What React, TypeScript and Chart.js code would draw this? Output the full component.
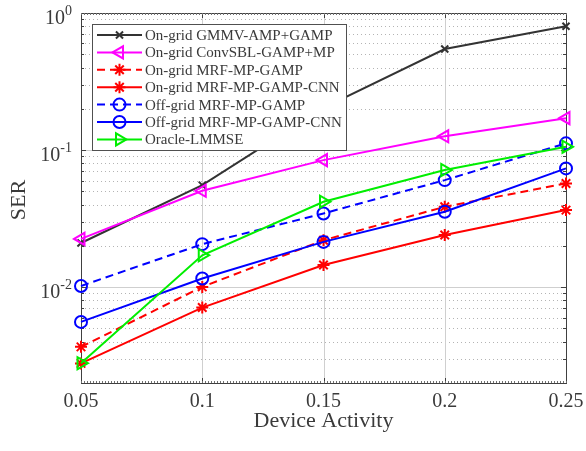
import React, { useEffect, useRef } from "react";
import { Chart, registerables } from "chart.js";
import { drawPoint } from "chart.js/helpers";

Chart.register(...registerables);

const xValues = [0.05, 0.1, 0.15, 0.2, 0.25];
const xTickLabels = ["0.05", "0.1", "0.15", "0.2", "0.25"];
const yDecades = [1, 0.1, 0.01];
const yDecadeExp = ["0", "-1", "-2"];

const gmmvAmp = [0.021, 0.0555, 0.203, 0.546, 0.8];
const convSbl = [0.0225, 0.0505, 0.0845, 0.126, 0.171];
const onMrfMp = [0.00367, 0.01005, 0.022, 0.0386, 0.0571];
const onMrfCnn = [0.00278, 0.0071, 0.0145, 0.024, 0.0365];
const offMrfMp = [0.0102, 0.0206, 0.0345, 0.0604, 0.112];
const offMrfCnn = [0.00558, 0.01157, 0.0214, 0.0355, 0.0735];
const oracle = [0.00279, 0.0171, 0.042, 0.0715, 0.1057];

const seriesNames = [
  "On-grid GMMV-AMP+GAMP",
  "On-grid ConvSBL-GAMP+MP",
  "On-grid MRF-MP-GAMP",
  "On-grid MRF-MP-GAMP-CNN",
  "Off-grid MRF-MP-GAMP",
  "Off-grid MRF-MP-GAMP-CNN",
  "Oracle-LMMSE",
];

const FONT = "'Liberation Serif', 'Times New Roman', serif";
const TEXT = "#3a3a3a";

const styles = [
  { color: "#333333", point: "crossRot", rot: 0, r: 5, dash: [] as number[] },
  { color: "#ff00ff", point: "triangle", rot: -90, r: 7, dash: [] as number[] },
  { color: "#ff0000", point: "star", rot: 0, r: 6, dash: [8, 5] },
  { color: "#ff0000", point: "star", rot: 0, r: 6, dash: [] as number[] },
  { color: "#0000ff", point: "circle", rot: 0, r: 6, dash: [8, 5] },
  { color: "#0000ff", point: "circle", rot: 0, r: 6, dash: [] as number[] },
  { color: "#00ee00", point: "triangle", rot: 90, r: 7, dash: [] as number[] },
];

const allSeries = [gmmvAmp, convSbl, onMrfMp, onMrfCnn, offMrfMp, offMrfCnn, oracle];

const decorPlugin = {
  id: "decor",
  beforeDatasetsDraw(chart: any) {
    const { ctx, chartArea: a, scales } = chart;
    const xs = scales.x;
    const ys = scales.y;
    ctx.save();
    // minor y grid (dotted)
    ctx.strokeStyle = "#b4b4b4";
    ctx.lineWidth = 1;
    ctx.setLineDash([1, 3]);
    for (let e = -3; e <= 0; e++) {
      for (let m = 2; m <= 9; m++) {
        const v = m * Math.pow(10, e);
        if (v < ys.min || v > ys.max) continue;
        const y = Math.round(ys.getPixelForValue(v)) + 0.5;
        ctx.beginPath();
        ctx.moveTo(a.left, y);
        ctx.lineTo(a.right, y);
        ctx.stroke();
      }
    }
    ctx.setLineDash([]);
    // major grid
    ctx.strokeStyle = "#cfcfcf";
    for (const v of yDecades) {
      const y = Math.round(ys.getPixelForValue(v)) + 0.5;
      ctx.beginPath();
      ctx.moveTo(a.left, y);
      ctx.lineTo(a.right, y);
      ctx.stroke();
    }
    for (const v of xValues) {
      const x = Math.round(xs.getPixelForValue(v)) + 0.5;
      ctx.beginPath();
      ctx.moveTo(x, a.top);
      ctx.lineTo(x, a.bottom);
      ctx.stroke();
    }
    // box
    ctx.strokeStyle = "#404040";
    ctx.lineWidth = 1;
    ctx.strokeRect(Math.round(a.left) + 0.5, Math.round(a.top) + 0.5, Math.round(a.right - a.left), Math.round(a.bottom - a.top));
    // ticks
    ctx.strokeStyle = "#404040";
    for (const v of yDecades) {
      const y = Math.round(ys.getPixelForValue(v)) + 0.5;
      ctx.beginPath();
      ctx.moveTo(a.left, y); ctx.lineTo(a.left + 5, y);
      ctx.moveTo(a.right, y); ctx.lineTo(a.right - 5, y);
      ctx.stroke();
    }
    for (let e = -3; e <= 0; e++) {
      for (let m = 2; m <= 9; m++) {
        const v = m * Math.pow(10, e);
        if (v < ys.min || v > ys.max) continue;
        const y = Math.round(ys.getPixelForValue(v)) + 0.5;
        ctx.beginPath();
        ctx.moveTo(a.left, y); ctx.lineTo(a.left + 3, y);
        ctx.moveTo(a.right, y); ctx.lineTo(a.right - 3, y);
        ctx.stroke();
      }
    }
    for (const v of xValues) {
      const x = Math.round(xs.getPixelForValue(v)) + 0.5;
      ctx.beginPath();
      ctx.moveTo(x, a.bottom); ctx.lineTo(x, a.bottom - 5);
      ctx.moveTo(x, a.top); ctx.lineTo(x, a.top + 5);
      ctx.stroke();
    }
    ctx.strokeStyle = "#707070";
    for (let i = 0; i <= 160; i++) {
      const v = xs.min + (i * (xs.max - xs.min)) / 160;
      const x = Math.round(xs.getPixelForValue(v)) + 0.5;
      ctx.beginPath();
      ctx.moveTo(x, a.bottom); ctx.lineTo(x, a.bottom - 2);
      ctx.moveTo(x, a.top); ctx.lineTo(x, a.top + 2);
      ctx.stroke();
    }
    ctx.restore();
  },
  afterDraw(chart: any) {
    const { ctx, chartArea: a, scales } = chart;
    const xs = scales.x;
    const ys = scales.y;
    ctx.save();
    ctx.fillStyle = TEXT;
    // x tick labels
    ctx.font = `20px ${FONT}`;
    ctx.textAlign = "center";
    ctx.textBaseline = "alphabetic";
    xValues.forEach((v, i) => {
      ctx.fillText(xTickLabels[i], xs.getPixelForValue(v), a.bottom + 24);
    });
    // y tick labels
    yDecades.forEach((v, i) => {
      const y = ys.getPixelForValue(v);
      ctx.font = `14px ${FONT}`;
      const supW = ctx.measureText(yDecadeExp[i]).width;
      const right = a.left - 9;
      ctx.textAlign = "left";
      ctx.fillText(yDecadeExp[i], right - supW, y + 2);
      ctx.font = `20px ${FONT}`;
      ctx.textAlign = "right";
      ctx.fillText("10", right - supW, y + 11);
    });
    // axis titles
    ctx.font = `22px ${FONT}`;
    ctx.textAlign = "center";
    ctx.fillText("Device Activity", (a.left + a.right) / 2, a.bottom + 44);
    ctx.save();
    ctx.translate(25, 200);
    ctx.rotate(-Math.PI / 2);
    ctx.fillText("SER", 0, 0);
    ctx.restore();
    // legend
    const lx = 92.5, ly = 24.5, lw = 254, lh = 126;
    ctx.fillStyle = "#ffffff";
    ctx.fillRect(lx, ly, lw, lh);
    ctx.strokeStyle = "#505050";
    ctx.lineWidth = 1;
    ctx.strokeRect(lx, ly, lw, lh);
    ctx.font = `15px ${FONT}`;
    ctx.textAlign = "left";
    ctx.textBaseline = "middle";
    seriesNames.forEach((name, i) => {
      const s = styles[i];
      const y = 35 + i * 17.4;
      ctx.strokeStyle = s.color;
      ctx.lineWidth = 2;
      ctx.setLineDash(s.dash);
      ctx.beginPath();
      ctx.moveTo(97, y);
      ctx.lineTo(142, y);
      ctx.stroke();
      ctx.setLineDash([]);
      ctx.fillStyle = "rgba(0,0,0,0)";
      drawPoint(ctx, { pointStyle: s.point, rotation: s.rot, radius: s.r, borderWidth: 2 } as any, 119.5, y);
      ctx.fillStyle = TEXT;
      ctx.fillText(name, 145, y + 1);
    });
    ctx.restore();
  },
};

export default function App() {
  const ref = useRef<HTMLCanvasElement>(null);
  useEffect(() => {
    if (!ref.current) return;
    const datasets = allSeries.map((vals, i) => {
      const s = styles[i];
      return {
        label: seriesNames[i],
        data: xValues.map((x, j) => ({ x, y: vals[j] })),
        borderColor: s.color,
        backgroundColor: "rgba(0,0,0,0)",
        borderWidth: 2,
        borderDash: s.dash,
        pointStyle: s.point,
        pointRotation: s.rot,
        pointRadius: s.r,
        pointBorderWidth: 2,
        pointBorderColor: s.color,
        pointBackgroundColor: "rgba(0,0,0,0)",
        tension: 0,
        clip: false as any,
        order: 7 - i,
      };
    });
    const chart = new Chart(ref.current, {
      type: "line",
      data: { datasets: datasets as any },
      options: {
        animation: false,
        responsive: false,
        devicePixelRatio: 1,
        layout: { padding: { left: 0, right: 20, top: 13, bottom: 0 } },
        plugins: { legend: { display: false }, tooltip: { enabled: false } },
        scales: {
          x: {
            type: "linear",
            min: 0.05,
            max: 0.25,
            grid: { display: false },
            border: { display: false },
            ticks: { display: false },
            afterFit: (s: any) => { s.height = 68; },
          },
          y: {
            type: "logarithmic",
            min: 0.002,
            max: 1,
            grid: { display: false },
            border: { display: false },
            ticks: { display: false },
            afterFit: (s: any) => { s.width = 81; },
          },
        },
      },
      plugins: [decorPlugin],
    });
    return () => chart.destroy();
  }, []);
  return (
    <div style={{ position: "fixed", left: 0, top: 0, width: 586, height: 451, background: "#fff" }}>
      <canvas ref={ref} width={586} height={451} style={{ width: 586, height: 451 }} />
    </div>
  );
}
